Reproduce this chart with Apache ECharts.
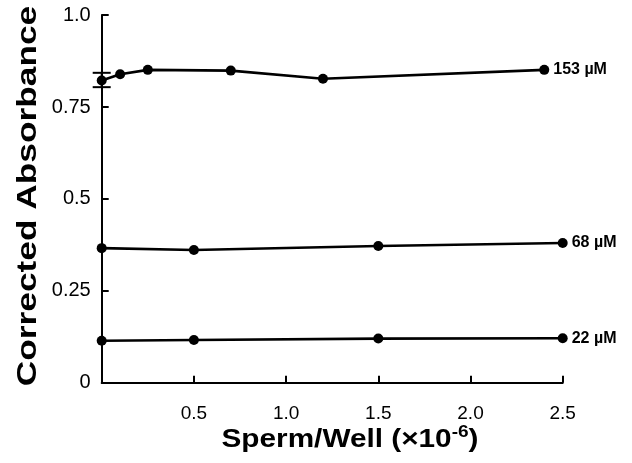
<!DOCTYPE html>
<html>
<head>
<meta charset="utf-8">
<script src="https://cdn.jsdelivr.net/npm/echarts@6/dist/echarts.min.js"></script>
<style>html,body{margin:0;padding:0;background:#fff}#c{width:632px;height:463px}</style>
</head>
<body>
<div id="c"></div>
<script>
// Data
const x153 = [0, 0.1, 0.25, 0.7, 1.2, 2.4];
const y153 = [0.822, 0.839, 0.851, 0.849, 0.827, 0.851];
const x68 = [0, 0.5, 1.5, 2.5];
const y68 = [0.366, 0.361, 0.372, 0.380];
const x22 = [0, 0.5, 1.5, 2.5];
const y22 = [0.114, 0.116, 0.120, 0.121];
const seriesNames = ['153 \u00b5M', '68 \u00b5M', '22 \u00b5M'];
const errX = [0];
const errLow = [0.804];
const errHigh = [0.843];
const yTickLabels = {0: '0', 0.25: '0.25', 0.5: '0.5', 0.75: '0.75', 1: '1.0'};
const xTickLabels = {0: '', 0.5: '0.5', 1: '1.0', 1.5: '1.5', 2: '2.0', 2.5: '2.5'};
const xTitle = ['Sperm/Well (\u00d710', '-6', ')'];
const yTitle = 'Corrected Absorbance';

const zip = (xs, ys) => xs.map((x, i) => [x, ys[i]]);
const FONT = 'Liberation Sans, Arial, Helvetica, sans-serif';

function lineSeries(name, xs, ys) {
  return {
    type: 'line', name: name, data: zip(xs, ys),
    symbol: 'circle', symbolSize: 10, showAllSymbol: true,
    lineStyle: {color: '#000', width: 2.6},
    itemStyle: {color: '#000'},
    endLabel: {show: true, formatter: name, color: '#000', fontFamily: FONT,
      fontSize: 16, fontWeight: 'bold', distance: 9},
    emphasis: {disabled: true}, animation: false, z: 3
  };
}

const chart = echarts.init(document.getElementById('c'));
chart.setOption({
  animation: false,
  grid: {left: 101.7, right: 69.3, top: 15.1, bottom: 80.3, containLabel: false},
  graphic: [
    {
      type: 'text', x: 350, y: 440, scaleX: 1.19, silent: true,
      style: {
        text: '{b|' + xTitle[0] + '}{s|' + xTitle[1] + '}{b|' + xTitle[2] + '}',
        align: 'center', verticalAlign: 'middle',
        rich: {
          b: {fontFamily: FONT, fontSize: 25, fontWeight: 'bold', fill: '#000'},
          s: {fontFamily: FONT, fontSize: 16, fontWeight: 'bold', fill: '#000', padding: [0, 0, 14, 0]}
        }
      }
    },
    {
      type: 'text', x: 28, y: 196, rotation: Math.PI / 2, scaleX: 1.26, silent: true,
      style: {
        text: yTitle, align: 'center', verticalAlign: 'middle',
        fontFamily: FONT, fontSize: 28, fontWeight: 'bold', fill: '#000'
      }
    }
  ],
  xAxis: {
    type: 'value', min: 0, max: 2.5, interval: 0.5,
    axisLine: {show: true, lineStyle: {color: '#000', width: 2}},
    axisTick: {show: true, inside: true, length: 7, lineStyle: {color: '#000', width: 2}},
    splitLine: {show: false},
    axisLabel: {margin: 22, color: '#000', fontFamily: FONT, fontSize: 19,
      formatter: v => xTickLabels[v] !== undefined ? xTickLabels[v] : ''}
  },
  yAxis: {
    type: 'value', min: 0, max: 1, interval: 0.25,
    axisLine: {show: true, lineStyle: {color: '#000', width: 2}},
    axisTick: {show: true, inside: true, length: 7, lineStyle: {color: '#000', width: 2}},
    splitLine: {show: false},
    axisLabel: {margin: 11, color: '#000', fontFamily: FONT, fontSize: 20,
      formatter: v => yTickLabels[v] !== undefined ? yTickLabels[v] : ''}
  },
  series: [
    lineSeries(seriesNames[0], x153, y153),
    lineSeries(seriesNames[1], x68, y68),
    lineSeries(seriesNames[2], x22, y22),
    {
      type: 'custom', name: 'err', silent: true, z: 4,
      data: errX.map((x, i) => [x, errLow[i], errHigh[i]]),
      renderItem: function (params, api) {
        const lo = api.coord([api.value(0), api.value(1)]);
        const hi = api.coord([api.value(0), api.value(2)]);
        const w = 9;
        const st = {stroke: '#000', lineWidth: 2};
        return {type: 'group', children: [
          {type: 'line', shape: {x1: lo[0], y1: lo[1], x2: hi[0], y2: hi[1]}, style: st},
          {type: 'line', shape: {x1: lo[0] - w, y1: lo[1], x2: lo[0] + w, y2: lo[1]}, style: st},
          {type: 'line', shape: {x1: hi[0] - w, y1: hi[1], x2: hi[0] + w, y2: hi[1]}, style: st}
        ]};
      }
    }
  ]
});
</script>
</body>
</html>
